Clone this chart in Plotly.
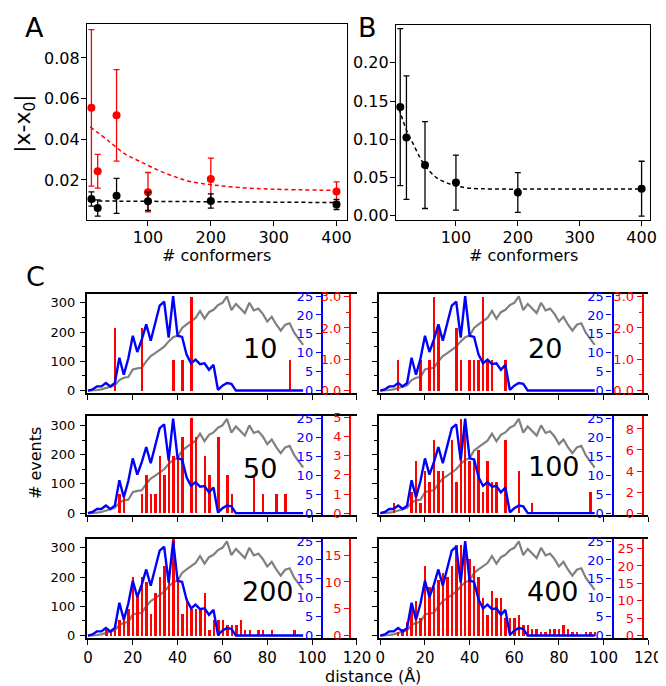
import plotly.graph_objects as go

FONT = "DejaVu Sans"
W, H = 666, 686
RED = "#ff0000"
BLUE = "#0000ff"
GRAY = "#808080"

# ---- panel A / B data ----
conformers = [10, 20, 50, 100, 200, 400]
a_red = [0.0555, 0.0243, 0.0518, 0.0140, 0.0205, 0.0143]
a_red_err = [0.0385, 0.0083, 0.0225, 0.0097, 0.0103, 0.0048]
a_black = [0.0107, 0.0062, 0.0122, 0.0095, 0.0097, 0.0080]
a_black_err = [0.0035, 0.0040, 0.0086, 0.0045, 0.0035, 0.0025]

a_fit_x = [8, 37, 63, 89, 115, 141, 167, 203, 245, 297, 400]
a_red_fit = [0.0461, 0.0393, 0.0329, 0.0289, 0.0250, 0.0218, 0.0193, 0.0176, 0.0163, 0.0155, 0.0149]
a_black_fit_x = [10, 100, 200, 300, 400]
a_black_fit = [0.0097, 0.0095, 0.0093, 0.0091, 0.0089]

b_val = [0.142, 0.102, 0.066, 0.043, 0.030, 0.035]
b_err = [0.103, 0.081, 0.057, 0.036, 0.026, 0.036]
b_fit_x = [8, 13.3, 21.2, 31.7, 42.2, 52.7, 68.4, 84.1, 99.9, 120.9, 160, 250, 400]
b_fit = [0.1398, 0.127, 0.1097, 0.0925, 0.0753, 0.0624, 0.0495, 0.043, 0.0387, 0.0357, 0.0346, 0.0345, 0.0345]

# ---- panel C data ----
dist = [0, 2, 4, 6, 8, 10, 12, 14, 16, 18, 20, 22, 24, 26, 28, 30, 32, 34, 36, 38,
        40, 42, 44, 46, 48, 50, 52, 54, 56, 58, 60, 62, 64, 66, 68, 70, 72, 74, 76, 78,
        80, 82, 84, 86, 88, 90, 92, 94, 96]
gray_events = [0, 0, 2, 4, 8, 12, 18, 36, 44, 46, 72, 76, 78, 100, 118, 128, 138, 150, 168, 182,
               188, 214, 226, 236, 248, 272, 246, 268, 276, 292, 300, 322, 275, 296, 282, 265, 300, 274, 280, 262,
               236, 252, 226, 205, 225, 230, 198, 178, 156]
blue_events = [0, 0.3, 1.1, 1.1, 2.0, 1.1, 2.0, 8.7, 4.2, 8.5, 14.5, 10.2, 13.5, 17.5, 13.2, 17.5, 22.5, 23.5, 14.0, 25.0,
               14.5, 14.2, 9.5, 7.2, 8.2, 7.0, 7.2, 5.5, 6.8, 0.2, 1.3, 2.0, 1.8, 0, 0, 0, 0, 0, 0, 0,
               0, 0, 0, 0, 0, 0, 0, 0, 0]

n_labels = ["10", "20", "50", "100", "200", "400"]
red_x = [
    [12, 24, 38, 42, 46, 90],
    [8, 18, 22, 24, 26, 34, 36, 40, 42, 44, 46, 48, 50, 56],
    [14, 16, 24, 26, 28, 30, 32, 34, 36, 38, 40, 42, 46, 48, 52, 54, 58, 62, 64, 74, 78, 84, 88],
    [6, 14, 16, 18, 20, 22, 24, 26, 28, 32, 34, 36, 38, 40, 42, 44, 46, 48, 50, 52, 56, 62, 68, 94],
    [8, 10, 12, 14, 16, 18, 20, 22, 24, 26, 28, 30, 32, 34, 36, 38, 40, 42, 44, 46, 48, 50,
     52, 54, 56, 58, 60, 62, 64, 66, 68, 70, 72, 76, 78, 82, 92],
    [8, 10, 12, 14, 16, 18, 20, 22, 24, 26, 28, 30, 32, 34, 36, 38, 40, 42, 44, 46, 48, 50,
     52, 54, 56, 58, 60, 62, 64, 66, 68, 70, 72, 74, 76, 78, 80, 82, 84, 86, 88, 92, 94, 96],
]
red_h = [
    [2, 2, 1, 1, 3, 1],
    [1, 1, 1, 3, 2, 2, 1, 1, 1, 1, 3, 1, 1, 1],
    [1, 1, 1, 2, 1, 1, 3, 2, 3, 3, 3, 4, 5, 4, 3, 2, 4, 2, 1, 2, 1, 1, 1],
    [1, 2, 5, 1, 4, 3, 7, 4, 4, 7, 3, 9, 9, 5, 5, 6, 2, 5, 3, 3, 7, 4, 1, 2],
    [1, 1, 1, 3, 4, 5, 11, 8, 11, 10, 4, 8, 11, 13, 11, 18, 11, 4, 7, 5, 5, 5,
     8, 1, 3, 3, 3, 2, 2, 2, 3, 1, 1, 1, 1, 1, 1],
    [1, 2, 4, 9, 10, 5, 20, 14, 14, 16, 18, 17, 20, 26, 26, 27, 22, 20, 17, 11, 6, 13,
     11, 11, 5, 5, 5, 6, 3, 3, 2, 2, 1, 1, 2, 2, 2, 3, 2, 1, 1, 1, 1, 1],
]
# red axis: tick step, top tick value, pixels of top tick above zero, label format
red_axis = [
    (1, 3.0, 95.4, ".1f"), (1, 3.0, 95.4, ".1f"), (1, 5, 97.3, "d"),
    (2, 8, 85.6, "d"), (5, 15, 81.7, "d"), (5, 25, 88.4, "d"),
]

fig = go.Figure()


def px_x(p):
    return p / W


def px_y(p):
    return 1 - p / H


axis_font = dict(family=FONT, size=16, color="black")
common = dict(showgrid=False, zeroline=False, showline=True, linecolor="black", linewidth=1.3,
              mirror=True, ticks="outside", ticklen=5, tickwidth=1.3, tickcolor="black",
              tickfont=axis_font, ticklabelstandoff=-2)

# ---- panel A ----
fig.add_trace(go.Scatter(x=a_fit_x, y=a_red_fit, mode="lines", line=dict(color=RED, dash="4px,3px", width=1.5, shape="spline"),
                         xaxis="x", yaxis="y", showlegend=False))
fig.add_trace(go.Scatter(x=a_black_fit_x, y=a_black_fit, mode="lines", line=dict(color="black", dash="4px,3px", width=1.5),
                         xaxis="x", yaxis="y", showlegend=False))
fig.add_trace(go.Scatter(x=conformers, y=a_red, mode="markers", marker=dict(color=RED, size=8),
                         error_y=dict(type="data", array=a_red_err, color=RED, thickness=1.3, width=3),
                         xaxis="x", yaxis="y", showlegend=False))
fig.add_trace(go.Scatter(x=conformers, y=a_black, mode="markers", marker=dict(color="black", size=8),
                         error_y=dict(type="data", array=a_black_err, color="black", thickness=1.3, width=3),
                         xaxis="x", yaxis="y", showlegend=False))

# ---- panel B ----
fig.add_trace(go.Scatter(x=b_fit_x, y=b_fit, mode="lines", line=dict(color="black", dash="4px,3px", width=1.5, shape="spline"),
                         xaxis="x2", yaxis="y2", showlegend=False))
fig.add_trace(go.Scatter(x=conformers, y=b_val, mode="markers", marker=dict(color="black", size=8),
                         error_y=dict(type="data", array=b_err, color="black", thickness=1.3, width=3),
                         xaxis="x2", yaxis="y2", showlegend=False))

layout = dict(
    xaxis=dict(domain=[px_x(78), px_x(345)], range=[3, 417], tickvals=[100, 200, 300, 400], anchor="y", **common),
    yaxis=dict(domain=[px_y(209), px_y(10)], range=[0.0005, 0.0968], tickvals=[0.02, 0.04, 0.06, 0.08],
               tickformat=".2f", anchor="x", **common),
    xaxis2=dict(domain=[px_x(395), px_x(656)], range=[3, 414], tickvals=[100, 200, 300, 400], anchor="y2", **common),
    yaxis2=dict(domain=[px_y(209), px_y(11)], range=[-0.0056, 0.2499], tickvals=[0, 0.05, 0.1, 0.15, 0.2],
                tickformat=".2f", anchor="x2", **common),
)

# ---- panel C ----
rows = [(382.7, 284.3), (507.3, 408.3), (631.7, 533.3)]
cols = [(77.6, 355.0), (377.6, 654.0)]
blue_pos = [319, 617.3]
red_pos = [348, 648.3]
small = dict(family=FONT, size=13)

for k in range(6):
    r, c = k // 2, k % 2
    y_zero, y_top = rows[r]
    y_axis_px = y_zero + 2.3
    dom_y = [px_y(y_axis_px), px_y(y_top)]
    xid, gid, rid, bid = 3 + k, 3 + k, 9 + k, 15 + k

    fig.add_trace(go.Scatter(x=dist, y=gray_events, mode="lines", line=dict(color=GRAY, width=2.2),
                             xaxis=f"x{xid}", yaxis=f"y{gid}", showlegend=False))
    fig.add_trace(go.Bar(x=red_x[k], y=red_h[k], width=1.1, marker=dict(color=RED, line=dict(width=0)),
                         xaxis=f"x{xid}", yaxis=f"y{rid}", showlegend=False))
    fig.add_trace(go.Scatter(x=dist, y=blue_events, mode="lines", line=dict(color=BLUE, width=2.4),
                             xaxis=f"x{xid}", yaxis=f"y{bid}", showlegend=False))

    layout[f"xaxis{xid}"] = dict(domain=[px_x(cols[c][0]), px_x(cols[c][1])], range=[-0.6, 120],
                                 tickvals=[0, 20, 40, 60, 80, 100, 120], showticklabels=(r == 2),
                                 anchor=f"y{gid}", showgrid=False, zeroline=False, showline=True,
                                 linecolor="black", linewidth=1.6, mirror=True, ticks="outside",
                                 ticklen=5, tickwidth=1.3, tickcolor="black",
                                 tickfont=dict(family=FONT, size=15, color="black"))

    gppu = 89.2 / 300
    layout[f"yaxis{gid}"] = dict(domain=dom_y, range=[-2.3 / gppu, (y_zero - y_top) / gppu],
                                 tickvals=[0, 100, 200, 300], showticklabels=(c == 0), anchor=f"x{xid}",
                                 showgrid=False, zeroline=False, showline=True, linecolor="black", linewidth=1.6,
                                 ticks="outside", ticklen=5, tickwidth=1.3, tickcolor="black",
                                 tickfont=dict(small, color="black"), ticklabelstandoff=2,
                                 minor=dict(tickvals=[50, 150, 250], ticklen=3, tickcolor="black", ticks="outside"))

    bppu = 96.0 / 25
    layout[f"yaxis{bid}"] = dict(range=[-2.3 / bppu, (y_zero - y_top) / bppu], overlaying=f"y{gid}",
                                 anchor="free", position=px_x(blue_pos[c]), side="left",
                                 tickvals=[0, 5, 10, 15, 20, 25], showgrid=False, zeroline=False,
                                 showline=True, linecolor=BLUE, linewidth=2.2, ticks="outside",
                                 ticklen=5, tickwidth=1.3, tickcolor=BLUE, tickfont=dict(small, color=BLUE))

    step, top, top_px, fmt = red_axis[k]
    rppu = top_px / top
    rvals = [i * step for i in range(int(top / step) + 1)]
    red_ax = dict(range=[-2.3 / rppu, (y_zero - y_top) / rppu], overlaying=f"y{gid}",
                  anchor="free", position=px_x(red_pos[c]), side="left",
                  tickvals=rvals, tickformat=fmt, showgrid=False, zeroline=False,
                  showline=True, linecolor=RED, linewidth=2.2, ticks="outside",
                  ticklen=5, tickwidth=1.3, tickcolor=RED, tickfont=dict(small, color=RED))
    if k < 2:
        red_ax["minor"] = dict(tickvals=[0.5, 1.5, 2.5], ticklen=3, tickcolor=RED, ticks="outside")
    layout[f"yaxis{rid}"] = red_ax

# number labels inside panels C
num_pos = [(255.5, 340), (547.5, 340), (255.8, 461.7), (557.5, 460), (263.3, 586.7), (556.7, 586.7)]
annotations = []
for k, (px, py) in enumerate(num_pos):
    annotations.append(dict(text=n_labels[k], x=px_x(px), y=px_y(py), xref="paper", yref="paper",
                            showarrow=False, font=dict(family=FONT, size=27, color="black"),
                            xanchor="center", yanchor="middle"))

for txt, px, py in [("A", 24, 14), ("B", 366, 14), ("C", 25, 267)]:
    annotations.append(dict(text=txt, x=px_x(px), y=px_y(py), xref="paper", yref="paper", showarrow=False,
                            font=dict(family=FONT, size=27, color="black"), xanchor="center", yanchor="middle"))

annotations += [
    dict(text="# conformers", x=px_x(211), y=px_y(245), xref="paper", yref="paper", showarrow=False,
         font=dict(family=FONT, size=16, color="black"), xanchor="center", yanchor="middle"),
    dict(text="# conformers", x=px_x(526), y=px_y(245), xref="paper", yref="paper", showarrow=False,
         font=dict(family=FONT, size=16, color="black"), xanchor="center", yanchor="middle"),
    dict(text="|x-x<sub>0</sub>|", x=px_x(14), y=px_y(111), xref="paper", yref="paper", showarrow=False,
         textangle=-90, font=dict(family=FONT, size=22, color="black"), xanchor="center", yanchor="middle"),
    dict(text="# events", x=px_x(25), y=px_y(456), xref="paper", yref="paper", showarrow=False,
         textangle=-90, font=dict(family=FONT, size=16, color="black"), xanchor="center", yanchor="middle"),
    dict(text="distance (Å)", x=px_x(371), y=px_y(673), xref="paper", yref="paper", showarrow=False,
         font=dict(family=FONT, size=16, color="black"), xanchor="center", yanchor="middle"),
]

fig.update_layout(**layout)
fig.update_layout(
    annotations=annotations,
    width=W, height=H,
    margin=dict(l=0, r=0, t=0, b=0),
    paper_bgcolor="white", plot_bgcolor="rgba(0,0,0,0)",
    bargap=0, barmode="overlay",
    font=dict(family=FONT),
    showlegend=False,
)

fig.write_html("out.html")
